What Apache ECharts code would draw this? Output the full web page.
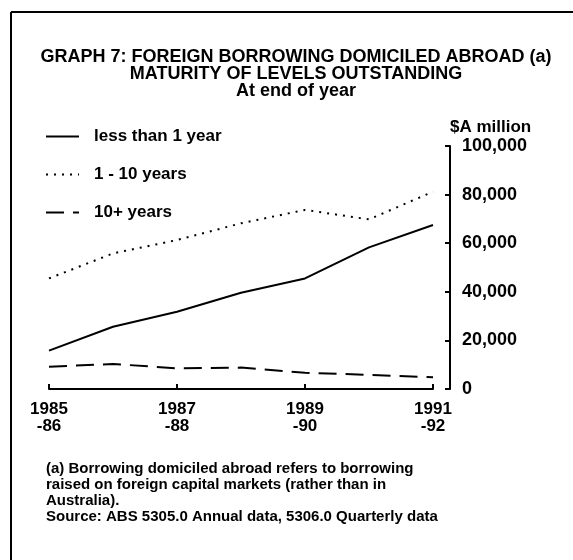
<!DOCTYPE html>
<html>
<head>
<meta charset="utf-8">
<script src="https://cdn.jsdelivr.net/npm/echarts@6/dist/echarts.min.js"></script>
<style>
html,body{margin:0;padding:0;background:#fff;}
#c{width:573px;height:560px;}
</style>
</head>
<body>
<div id="c"></div>
<script>
// ---- data ----
var years = ['1985-86', '1986-87', '1987-88', '1988-89', '1989-90', '1990-91', '1991-92'];
var lessThan1Year = [15800, 25600, 31800, 39600, 45500, 58300, 67500];
var oneToTenYears = [45500, 55800, 61300, 68200, 73700, 69800, 81200];
var tenPlusYears = [9200, 10300, 8500, 8800, 6700, 5800, 4800];
var seriesNames = ['less than 1 year', '1 - 10 years', '10+ years'];
var yTicks = [0, 20000, 40000, 60000, 80000, 100000];

var FONT = 'Liberation Sans, Arial, Helvetica, sans-serif';
var chart = echarts.init(document.getElementById('c'), null, {renderer: 'canvas'});

chart.setOption({
  backgroundColor: '#fff',
  animation: false,
  title: {
    text: 'GRAPH 7: FOREIGN BORROWING DOMICILED ABROAD (a)\nMATURITY OF LEVELS OUTSTANDING\nAt end of year',
    left: 291,
    textAlign: 'center',
    top: 44,
    textStyle: {fontFamily: FONT, fontSize: 18, fontWeight: 'bold', color: '#000', lineHeight: 17}
  },
  legend: {
    orient: 'vertical',
    left: 45,
    top: 128,
    padding: 0,
    itemWidth: 33,
    itemHeight: 18,
    itemGap: 21,
    data: seriesNames,
    itemStyle: {color: 'rgba(0,0,0,0)', borderColor: 'rgba(0,0,0,0)', borderWidth: 0},
    textStyle: {fontFamily: FONT, fontSize: 17, fontWeight: 'bold', color: '#000', padding: [0, 0, 0, 10]}
  },
  grid: {left: 49, right: 140, top: 146, bottom: 171, containLabel: false},
  xAxis: {
    type: 'category',
    data: years,
    boundaryGap: false,
    axisLine: {lineStyle: {color: '#000', width: 2}},
    axisTick: {inside: true, length: 5, interval: 1, lineStyle: {color: '#000', width: 2}},
    axisLabel: {
      interval: 1,
      margin: 12,
      color: '#000',
      fontFamily: FONT,
      fontSize: 17,
      fontWeight: 'bold',
      lineHeight: 17,
      formatter: function (v) { var p = v.split('-'); return p[0] + '\n-' + p[1]; }
    },
    splitLine: {show: false}
  },
  yAxis: {
    type: 'value',
    position: 'right',
    offset: 17,
    min: yTicks[0],
    max: yTicks[yTicks.length - 1],
    interval: yTicks[1] - yTicks[0],
    name: '$A million',
    nameLocation: 'end',
    nameGap: 19,
    nameTextStyle: {fontFamily: FONT, fontSize: 17, fontWeight: 'bold', color: '#000', align: 'left', verticalAlign: 'middle'},
    axisLine: {show: true, lineStyle: {color: '#000', width: 2}},
    axisTick: {show: true, inside: true, length: 5, lineStyle: {color: '#000', width: 2}},
    axisLabel: {
      margin: 12,
      color: '#000',
      fontFamily: FONT,
      fontSize: 18,
      fontWeight: 'bold',
      formatter: function (v) { return v.toLocaleString('en-US'); }
    },
    splitLine: {show: false}
  },
  series: [
    {name: seriesNames[0], type: 'line', data: lessThan1Year, symbol: 'none', color: '#000',
     lineStyle: {color: '#000', width: 2, type: 'solid'}},
    {name: seriesNames[1], type: 'line', data: oneToTenYears, symbol: 'none', color: '#000',
     lineStyle: {color: '#000', width: 2, type: [2, 6]}},
    {name: seriesNames[2], type: 'line', data: tenPlusYears, symbol: 'none', color: '#000',
     lineStyle: {color: '#000', width: 2, type: [18, 9]}}
  ],
  graphic: [
    {type: 'line', shape: {x1: 11, y1: 12, x2: 573, y2: 12}, style: {stroke: '#000', lineWidth: 2}},
    {type: 'line', shape: {x1: 11, y1: 12, x2: 11, y2: 560}, style: {stroke: '#000', lineWidth: 2}},
    {type: 'text', left: 46, top: 461,
     style: {text: '(a) Borrowing domiciled abroad refers to borrowing\nraised on foreign capital markets (rather than in\nAustralia).\nSource: ABS 5305.0 Annual data, 5306.0 Quarterly data',
       fontFamily: FONT, fontSize: 15, fontWeight: 'bold', fill: '#000', lineHeight: 16}}
  ]
});
</script>
</body>
</html>
